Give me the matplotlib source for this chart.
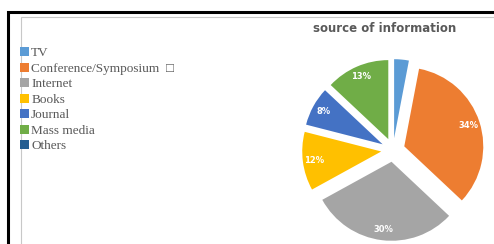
import matplotlib.pyplot as plt
from matplotlib.patches import Patch, Rectangle

# data
sources = ['TV', 'Conference/Symposium  \u25a1', 'Internet', 'Books', 'Journal', 'Mass media', 'Others']
shares = [3, 34, 30, 12, 8, 13, 0]
colors = ['#5B9BD5', '#ED7D31', '#A5A5A5', '#FFC000', '#4472C4', '#70AD47', '#255E91']

W, H = 494, 244
fig = plt.figure(figsize=(W / 100, H / 100), dpi=100)

# frame lines around the chart area
fig.patches.append(Rectangle((8 / W, -0.1), 2, (H - 12) / H + 0.1, transform=fig.transFigure,
                             fill=False, edgecolor='black', linewidth=2.2))
fig.patches.append(Rectangle((21 / W, -0.1), 2, (H - 17) / H + 0.1, transform=fig.transFigure,
                             fill=False, edgecolor='#c8c8c8', linewidth=0.8))

# pie centre at (393, 150) px from top, radius 79 px
cx, cy, R, half = 393, 150, 79, 100
ax = fig.add_axes([(cx - half) / W, (H - cy - half) / H, 2 * half / W, 2 * half / H])
lim = half / R
ax.axis('off')

wedges, texts, autotexts = ax.pie(
    shares, colors=colors, startangle=90, counterclock=False,
    explode=[0.15] * len(shares), pctdistance=0.86,
    autopct=lambda p: '%d%%' % round(p) if p >= 5 else '',
    textprops=dict(color='white', fontsize=6, fontweight='bold'),
    wedgeprops=dict(linewidth=0))
ax.set_xlim(-lim, lim)
ax.set_ylim(-lim, lim)

fig.text(385 / W, 1 - 28 / H, 'source of information', ha='center', va='center',
         fontsize=8.5, fontweight='bold', color='#595959')

handles = [Patch(facecolor=c, edgecolor='none') for c in colors]
leg = fig.legend(handles, sources, loc='upper left', bbox_to_anchor=(20 / W, 1 - 47 / H),
                 frameon=False, borderpad=0, borderaxespad=0, handlelength=0.7, handleheight=0.7,
                 handletextpad=0.15, labelspacing=0.25,
                 prop=dict(family='Liberation Serif', size=9.5))
for t in leg.get_texts():
    t.set_color('#595959')

fig.savefig('out.png', dpi=100)
